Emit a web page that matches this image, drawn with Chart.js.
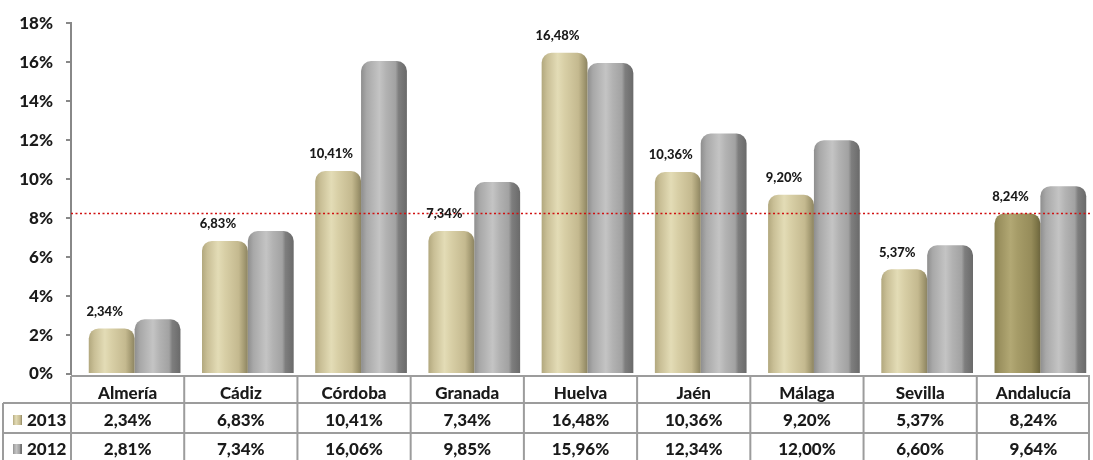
<!DOCTYPE html>
<html>
<head>
<meta charset="utf-8">
<script src="https://cdn.jsdelivr.net/npm/chart.js@4.4.0/dist/chart.umd.min.js"></script>
<style>
html,body{margin:0;padding:0;background:#fff;}
canvas{display:block;}
</style>
</head>
<body>
<canvas id="c" width="1093" height="460"></canvas>
<script>
const categories = ['Almería','Cádiz','Córdoba','Granada','Huelva','Jaén','Málaga','Sevilla','Andalucía'];
const seriesLabels = ['2013','2012'];
const values2013 = [2.34,6.83,10.41,7.34,16.48,10.36,9.20,5.37,8.24];
const values2012 = [2.81,7.34,16.06,9.85,15.96,12.34,12.00,6.60,9.64];
const yMin = 0, yMax = 18, yStep = 2;
const referenceLine = 8.24;

const FONT = 'Lato, "Open Sans", sans-serif';
const W = '900';
const CAT_PCT = 0.81;
const GRID = '#9c9c9c';

const stopsBeige = [[0,'#b2a87e'],[0.12,'#c9bf96'],[0.35,'#e3dcb6'],[0.5,'#d8cfa6'],[0.8,'#c4b98f'],[0.92,'#a49a72'],[1,'#8c8462']];
const stopsDark  = [[0,'#8a8150'],[0.12,'#9c9260'],[0.35,'#b2a874'],[0.5,'#a69c68'],[0.8,'#968c5a'],[0.92,'#7e7648'],[1,'#6c653e']];
const stopsGray  = [[0,'#8e8e8e'],[0.12,'#a8a8a8'],[0.4,'#c4c4c4'],[0.55,'#b2b2b2'],[0.75,'#a2a2a2'],[0.82,'#7e7e7e'],[1,'#6a6a6a']];

function fmt(v){ return v.toFixed(2).replace('.', ',') + '%'; }

function grad(ctx, x0, w, stops){
  const g = ctx.createLinearGradient(x0, 0, x0 + w, 0);
  stops.forEach(s => g.addColorStop(s[0], s[1]));
  return g;
}

function barColor(c){
  const ds = c.datasetIndex;
  const flat = ds === 0 ? '#cbc39a' : '#a6a6a6';
  if (c.type !== 'data') return flat;
  const chart = c.chart;
  const xs = chart.scales.x;
  if (!xs || !chart.chartArea) return flat;
  const cw = (chart.chartArea.right - chart.chartArea.left) / categories.length;
  const bw = cw * CAT_PCT / 2;
  const center = xs.getPixelForValue(c.dataIndex);
  if (!isFinite(center)) return flat;
  const left = ds === 0 ? center - bw : center;
  let stops = ds === 0 ? stopsBeige : stopsGray;
  if (ds === 0 && c.dataIndex === categories.length - 1) stops = stopsDark;
  return grad(chart.ctx, left, bw, stops);
}

const decor = {
  id: 'decor',
  beforeDatasetsDraw(chart){
    chart.ctx.save();
    chart.ctx.translate(7, 0);
  },
  afterDatasetsDraw(chart){
    const ctx = chart.ctx;
    ctx.restore();
    const ca = chart.chartArea;
    const ys = chart.scales.y;

    // reference dotted line
    const yl = ys.getPixelForValue(referenceLine);
    ctx.save();
    ctx.strokeStyle = '#d01010';
    ctx.lineWidth = 1.5;
    ctx.setLineDash([2, 2.5]);
    ctx.beginPath();
    ctx.moveTo(ca.left, yl);
    ctx.lineTo(ca.right, yl);
    ctx.stroke();
    ctx.restore();

    // data labels for 2013
    const meta = chart.getDatasetMeta(0);
    ctx.save();
    ctx.fillStyle = '#1a1a1a';
    ctx.font = W + ' 13px ' + FONT;
    ctx.textAlign = 'center';
    ctx.textBaseline = 'middle';
    meta.data.forEach((el, i) => {
      ctx.fillText(fmt(values2013[i]), el.x, el.y - 17);
    });
    ctx.restore();

    // data table
    const n = categories.length;
    const cw = (ca.right - ca.left) / n;
    const t0 = ca.bottom + 2, r1 = 403, r2 = 433, r3 = 461;
    const tableLeft = 3;
    ctx.save();
    ctx.strokeStyle = GRID;
    ctx.lineWidth = 2;
    ctx.beginPath();
    ctx.moveTo(ca.left, t0); ctx.lineTo(ca.right, t0);
    ctx.moveTo(tableLeft, r1); ctx.lineTo(ca.right, r1);
    ctx.moveTo(tableLeft, r2); ctx.lineTo(ca.right, r2);
    ctx.moveTo(tableLeft, r3); ctx.lineTo(ca.right, r3);
    for (let i = 0; i <= n; i++){
      const x = ca.left + i * cw - (i === n ? 1 : 0);
      ctx.moveTo(x, t0); ctx.lineTo(x, r3);
    }
    ctx.moveTo(tableLeft, r1); ctx.lineTo(tableLeft, r3);
    ctx.stroke();

    ctx.fillStyle = '#1a1a1a';
    ctx.font = W + ' 17px ' + FONT;
    ctx.textAlign = 'center';
    ctx.textBaseline = 'alphabetic';
    const xs = chart.scales.x;
    categories.forEach((cat, i) => {
      const cx = xs.getPixelForValue(i);
      ctx.fillText(cat, cx, 399);
      ctx.fillText(fmt(values2013[i]), cx, 426);
      ctx.fillText(fmt(values2012[i]), cx, 455);
    });

    // legend keys
    const keys = [[stopsBeige, 426], [stopsGray, 455]];
    keys.forEach((k, j) => {
      const my = k[1] - 11;
      ctx.fillStyle = grad(ctx, 13, 9, k[0]);
      ctx.fillRect(13, my, 9, 10);
      ctx.fillStyle = '#1a1a1a';
      ctx.textAlign = 'left';
      ctx.fillText(seriesLabels[j], 27, k[1]);
    });
    ctx.restore();
  }
};

new Chart(document.getElementById('c'), {
  type: 'bar',
  data: {
    labels: categories,
    datasets: [
      { label: seriesLabels[0], data: values2013, backgroundColor: barColor,
        borderRadius: {topLeft: 10, topRight: 10, bottomLeft: 0, bottomRight: 0}, borderSkipped: 'bottom',
        categoryPercentage: CAT_PCT, barPercentage: 1.0 },
      { label: seriesLabels[1], data: values2012, backgroundColor: barColor,
        borderRadius: {topLeft: 10, topRight: 10, bottomLeft: 0, bottomRight: 0}, borderSkipped: 'bottom',
        categoryPercentage: CAT_PCT, barPercentage: 1.0 }
    ]
  },
  options: {
    responsive: false,
    animation: false,
    devicePixelRatio: 1,
    layout: { padding: { top: 23, right: 3, bottom: 86, left: 0 } },
    plugins: { legend: { display: false }, tooltip: { enabled: false } },
    scales: {
      x: { display: false },
      y: {
        min: yMin, max: yMax,
        ticks: { stepSize: yStep, callback: v => v + '%', color: '#1a1a1a',
                 font: { family: FONT, size: 17, weight: W }, padding: 13 },
        grid: { drawOnChartArea: false, drawTicks: true, tickLength: 5, color: '#888888', lineWidth: 2 },
        border: { display: true, color: '#888888', width: 2 },
        afterFit: s => { s.width = 71; }
      }
    }
  },
  plugins: [decor]
});
</script>
</body>
</html>
